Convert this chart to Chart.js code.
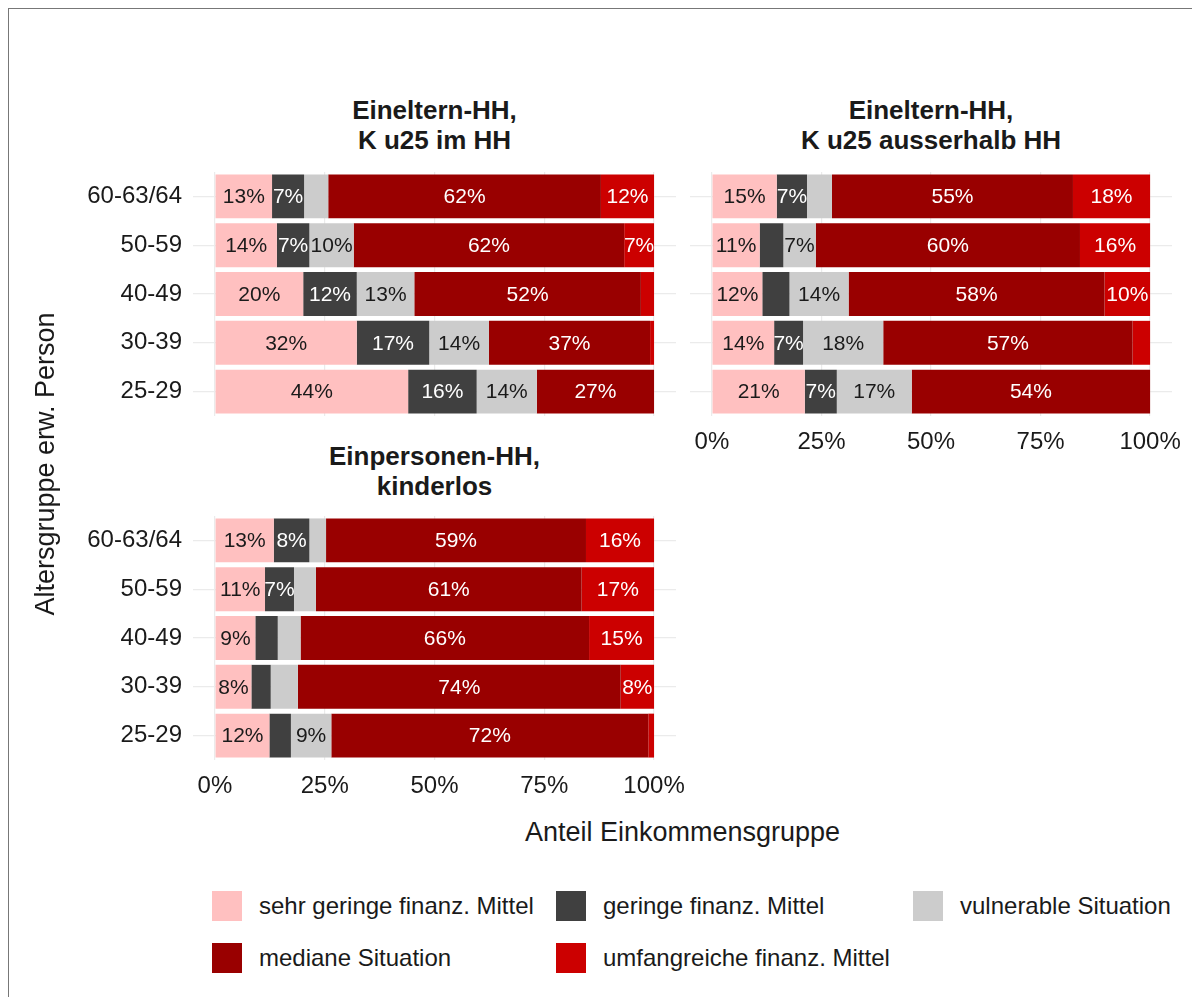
<!DOCTYPE html>
<html>
<head>
<meta charset="utf-8">
<script src="https://cdn.jsdelivr.net/npm/chart.js@4.4.1/dist/chart.umd.min.js"></script>
<style>
  body{margin:0;background:#fff;width:1192px;height:997px;position:relative;overflow:hidden;
       font-family:'Liberation Sans',Arial,sans-serif;color:#1a1a1a}
  .frame{position:absolute;left:8px;top:8px;right:-4px;bottom:-4px;border-left:1px solid #777;border-top:1px solid #777}
  canvas{position:absolute}
  .strip{position:absolute;text-align:center;font-weight:bold;font-size:26px;line-height:30px}
  .axtitle{position:absolute;text-align:center;font-size:27px;line-height:30px}
  .lg-box{position:absolute;width:30px;height:30px}
  .lg-txt{position:absolute;font-size:24px;line-height:30px;white-space:nowrap}
</style>
</head>
<body>
<div class="frame"></div>

<div class="strip" style="left:193px;top:95px;width:483px">Eineltern-HH,<br>K u25 im HH</div>
<div class="strip" style="left:690px;top:95px;width:482px">Eineltern-HH,<br>K u25 ausserhalb HH</div>
<div class="strip" style="left:193px;top:441px;width:483px">Einpersonen-HH,<br>kinderlos</div>

<canvas id="p1" width="680" height="244" style="left:0;top:172px"></canvas>
<canvas id="p2" width="502" height="284" style="left:690px;top:172px"></canvas>
<canvas id="p3" width="700" height="284" style="left:0;top:516px"></canvas>

<div class="axtitle" style="left:193px;top:817px;width:979px">Anteil Einkommensgruppe</div>
<div class="axtitle" style="left:-155px;top:449px;width:400px;transform:rotate(-90deg)">Altersgruppe erw. Person</div>

<div id="legend"></div>

<script>
// age groups, top to bottom
const ageGroups = ['60-63/64', '50-59', '40-49', '30-39', '25-29'];
const groupNames = ['sehr geringe finanz. Mittel', 'geringe finanz. Mittel', 'vulnerable Situation',
                    'mediane Situation', 'umfangreiche finanz. Mittel'];
const groupColors = ['#FFC0C0', '#404040', '#CCCCCC', '#990000', '#CC0000'];
const xTicks = [0, 25, 50, 75, 100];

// Eineltern-HH, K u25 im HH (percent)
const p1SehrGering = [13.0, 14.1, 20.1, 32.3, 44.0];
const p1Gering     = [7.3, 7.4, 12.2, 16.5, 15.6];
const p1Vulnerabel = [5.5, 10.1, 13.1, 13.6, 13.7];
const p1Median     = [62.1, 61.6, 51.6, 36.7, 26.7];
const p1Umfang     = [12.1, 6.8, 3.0, 0.9, 0.0];

// Eineltern-HH, K u25 ausserhalb HH
const p2SehrGering = [14.8, 10.9, 11.5, 14.2, 21.2];
const p2Gering     = [6.9, 5.4, 6.2, 6.6, 7.3];
const p2Vulnerabel = [5.7, 7.4, 13.5, 18.3, 17.1];
const p2Median     = [55.0, 60.3, 58.4, 56.9, 54.4];
const p2Umfang     = [17.6, 16.0, 10.4, 4.0, 0.0];

// Einpersonen-HH, kinderlos
const p3SehrGering = [13.4, 11.4, 9.2, 8.3, 12.4];
const p3Gering     = [8.1, 6.6, 5.1, 4.4, 4.9];
const p3Vulnerabel = [3.8, 5.0, 5.2, 6.2, 9.2];
const p3Median     = [59.2, 60.5, 65.7, 73.5, 72.2];
const p3Umfang     = [15.5, 16.5, 14.8, 7.6, 1.3];

const FONT = "'Liberation Sans', Arial, sans-serif";
const GRID = '#EBEBEB';

// percent labels inside segments (only the larger ones, like the original)
const segLabels = {
  id: 'segLabels',
  afterDatasetsDraw(chart){
    const ctx = chart.ctx;
    ctx.save();
    ctx.font = '21px ' + FONT;
    ctx.textAlign = 'center';
    ctx.textBaseline = 'middle';
    chart.data.datasets.forEach((ds, di) => {
      const meta = chart.getDatasetMeta(di);
      meta.data.forEach((bar, i) => {
        const v = ds.data[i];
        if(Math.round(v) < 7) return;
        ctx.fillStyle = (di === 0 || di === 2) ? '#1a1a1a' : '#ffffff';
        ctx.fillText(Math.round(v) + '%', (bar.x + bar.base) / 2, bar.y + 1);
      });
    });
    ctx.restore();
  }
};

function makePanel(id, series, showY, showX, rightPad){
  const datasets = series.map((vals, k) => ({
    label: groupNames[k],
    data: vals,
    backgroundColor: groupColors[k],
    borderWidth: 0,
    barPercentage: 0.9,
    categoryPercentage: 1.0
  }));
  return new Chart(document.getElementById(id), {
    type: 'bar',
    data: { labels: ageGroups, datasets },
    plugins: [segLabels],
    options: {
      indexAxis: 'y',
      responsive: false,
      animation: false,
      devicePixelRatio: 1,
      layout: { padding: { left: 0, right: rightPad, top: 0, bottom: 0 } },
      plugins: { legend: { display: false }, tooltip: { enabled: false } },
      scales: {
        x: {
          stacked: true, min: -5, max: 105,
          afterBuildTicks: s => { s.ticks = xTicks.map(v => ({ value: v })); },
          afterFit: s => {
            s.height = showX ? 40 : 0;
            s.paddingLeft = 0; s.paddingRight = 0;
          },
          border: { display: false },
          grid: { color: GRID, lineWidth: 1.2, drawTicks: false },
          ticks: {
            display: showX, padding: 12, color: '#1a1a1a', maxRotation: 0,
            font: { family: FONT, size: 24 },
            callback: v => v + '%'
          }
        },
        y: {
          stacked: true,
          afterFit: s => {
            s.width = showY ? 193 : 0;
            s.paddingTop = 0; s.paddingBottom = 0;
          },
          border: { display: false },
          grid: { color: GRID, lineWidth: 1.2, drawTicks: false, offset: false },
          ticks: { display: showY, padding: 11, color: '#1a1a1a', font: { family: FONT, size: 24 } }
        }
      }
    }
  });
}

makePanel('p1', [p1SehrGering, p1Gering, p1Vulnerabel, p1Median, p1Umfang], true, false, 4);
makePanel('p2', [p2SehrGering, p2Gering, p2Vulnerabel, p2Median, p2Umfang], false, true, 20);
makePanel('p3', [p3SehrGering, p3Gering, p3Vulnerabel, p3Median, p3Umfang], true, true, 24);

// legend, two rows like the original
const legendPos = [
  { box: 212, txt: 259, y: 891 }, { box: 556, txt: 603, y: 891 }, { box: 913, txt: 960, y: 891 },
  { box: 212, txt: 259, y: 943 }, { box: 556, txt: 603, y: 943 }
];
const lg = document.getElementById('legend');
groupNames.forEach((name, k) => {
  const p = legendPos[k];
  const b = document.createElement('div');
  b.className = 'lg-box';
  b.style.left = p.box + 'px'; b.style.top = p.y + 'px'; b.style.background = groupColors[k];
  const t = document.createElement('div');
  t.className = 'lg-txt';
  t.style.left = p.txt + 'px'; t.style.top = p.y + 'px';
  t.textContent = name;
  lg.appendChild(b); lg.appendChild(t);
});
</script>
</body>
</html>
